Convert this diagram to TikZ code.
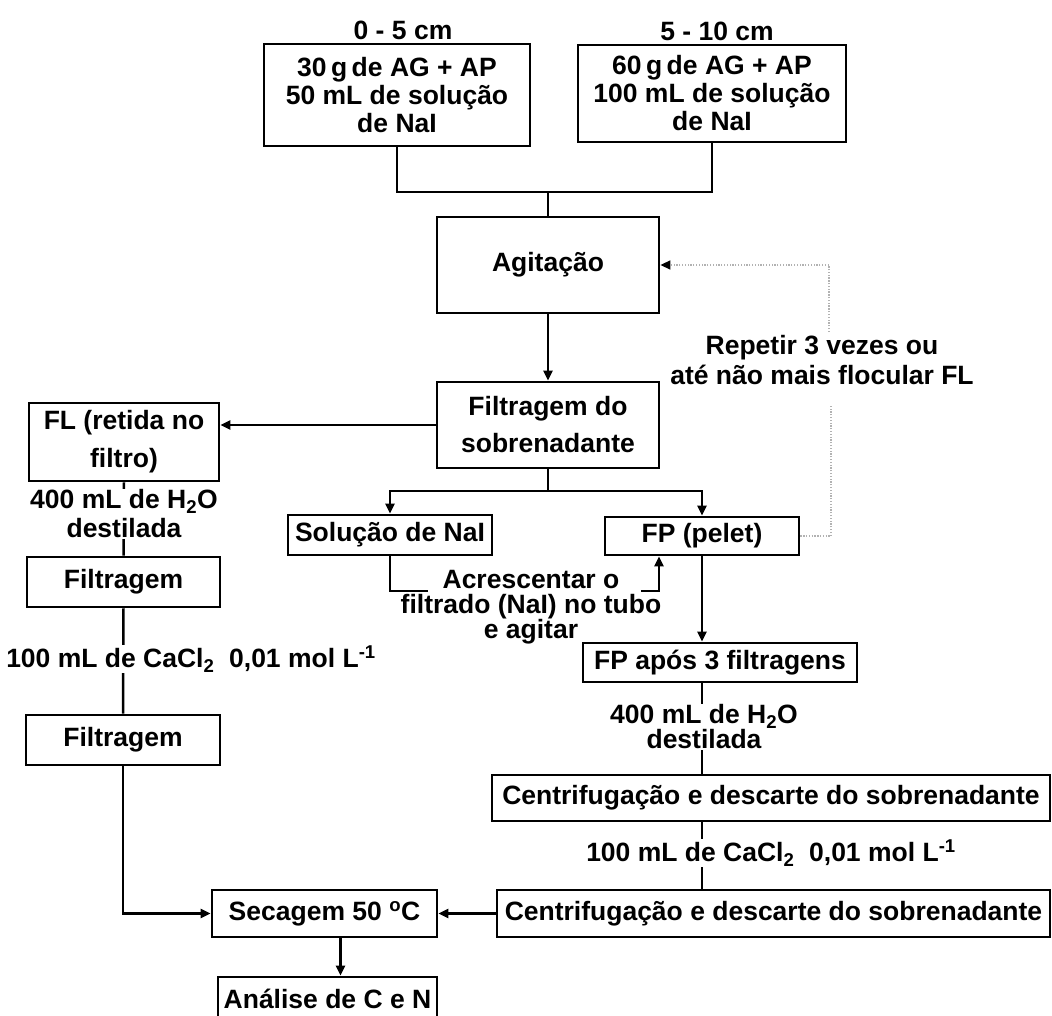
\documentclass[tikz,border=0pt]{standalone}
\usepackage{fontspec}
\setmainfont{Liberation Sans}
\usetikzlibrary{arrows.meta,backgrounds,calc}
\begin{document}
\begin{tikzpicture}[x=1pt,y=-1pt,
  ls/.style={font=\bfseries\fontsize{26.5}{#1}\selectfont},
  every node/.style={ls=28, inner sep=0pt, align=center},
  box/.style={draw, line width=2.8pt, fill=white},
  conn/.style={line width=2.5pt},
  arr/.style={conn, -{Triangle[length=10pt,width=9pt]}},
  lbl/.style={fill=white, inner sep=1pt},
  rep/.style={draw=gray!60, line width=1.5pt, dash pattern=on 1.3pt off 1.5pt},
]
\useasboundingbox (0,0) rectangle (1052,1016);
\clip (0,0) rectangle (1052,1016);

% top
\node (l1) at (403,30) {0 - 5 cm};
\node[box, minimum width=266, minimum height=102] (b1) at (397,95) {30\,g\,de AG + AP\\50 mL de solução\\de NaI};
\node (l2) at (717,31) {5 - 10 cm};
\node[box, minimum width=268, minimum height=97] (b2) at (712,93.5) {60\,g\,de AG + AP\\100 mL de solução\\de NaI};
\node[box, minimum width=222, minimum height=96] (agit) at (548,265) {Agitação};
\node[box, ls=37, minimum width=222, minimum height=86] (filt) at (548,425) {Filtragem do\\sobrenadante};

% left column
\node[box, ls=38, minimum width=190, minimum height=78] (fl) at (124,442) {FL (retida no\\filtro)};
\node[lbl, ls=29] (w1) at (124,514) {400 mL de H\textsubscript{2}O\\destilada};
\node[box, minimum width=193, minimum height=50] (fa) at (123.5,582) {Filtragem};
\node[lbl] (c1) at (191,659) {100 mL de CaCl\textsubscript{2}\ \ 0,01 mol L\textsuperscript{-1}};
\node[box, minimum width=194, minimum height=50] (fb) at (123,740) {Filtragem};
\node[box, minimum width=225, minimum height=47] (sec) at (324.5,913.5) {Secagem 50 \textsuperscript{o}C};
\node[box, minimum width=219, minimum height=44] (an) at (327.5,999) {Análise de C e N};

% right column
\node[box, minimum width=204, minimum height=40] (sol) at (390,535) {Solução de NaI};
\node[box, minimum width=194, minimum height=38] (fp) at (702,536) {FP (pelet)};
\node[ls=25] (acr) at (531,607) {Acrescentar o\\filtrado (NaI) no tubo\\e agitar};
\node[box, minimum width=274, minimum height=39] (fpa) at (720,662.5) {FP após 3 filtragens};
\node[lbl, ls=25] (w2) at (704,727) {400 mL de H\textsubscript{2}O\\destilada};
\node[box, minimum width=558, minimum height=46] (ca) at (771,798) {Centrifugação e descarte do sobrenadante};
\node[lbl] (c2) at (771,853) {100 mL de CaCl\textsubscript{2}\ \ 0,01 mol L\textsuperscript{-1}};
\node[box, minimum width=553, minimum height=47] (cb) at (773.5,913.5) {Centrifugação e descarte do sobrenadante};
\node[ls=30] (rep) at (822,360) {Repetir 3 vezes ou\\até não mais flocular FL};

% coordinates
\coordinate (j1) at (548,192);
\coordinate (j2) at (548,491);
\coordinate (ja) at (428,591);
\coordinate (jb) at (641,591);
\coordinate (r1) at (831,405);
\coordinate (r2) at (829,332);
\coordinate (p) at ($(sec.south)+(16,0)$);
\coordinate (q) at ($(fp.south)+(-43,0)$);

% connectors
\draw[conn] (b1.south) |- (j1) -| (b2.south);
\draw[conn] (j1) -- (agit.north);
\draw[arr] (agit.south) -- (filt.north);
\draw[arr] (filt.west) -- (filt.west -| fl.east);
\draw[conn] (filt.south) -- (j2);
\draw[arr] (j2) -| (sol.north);
\draw[arr] (j2) -| (fp.north);
\draw[conn] (sol.south) |- (ja);
\draw[arr] (jb) -| (q);
\draw[arr] (fp.south) -- (fp.south |- fpa.north);
\draw[arr] (fb.south) |- (sec.west);
\draw[arr] (cb.west) -- (sec.east);
\draw[arr] (p) -- (p |- an.north);
\draw[rep] (fp.east) -| (r1);
\draw[rep, -{Triangle[length=10pt,width=9pt,color=black]}] (r2) |- (agit.east);

\begin{pgfonlayer}{background}
\draw[conn] (fl.south) -- (fa.north);
\draw[conn] (fa.south) -- (fb.north);
\draw[conn] (fp.south |- fpa.south) -- (fp.south |- ca.north);
\draw[conn] (fp.south |- ca.south) -- (fp.south |- cb.north);
\end{pgfonlayer}
\end{tikzpicture}
\end{document}
